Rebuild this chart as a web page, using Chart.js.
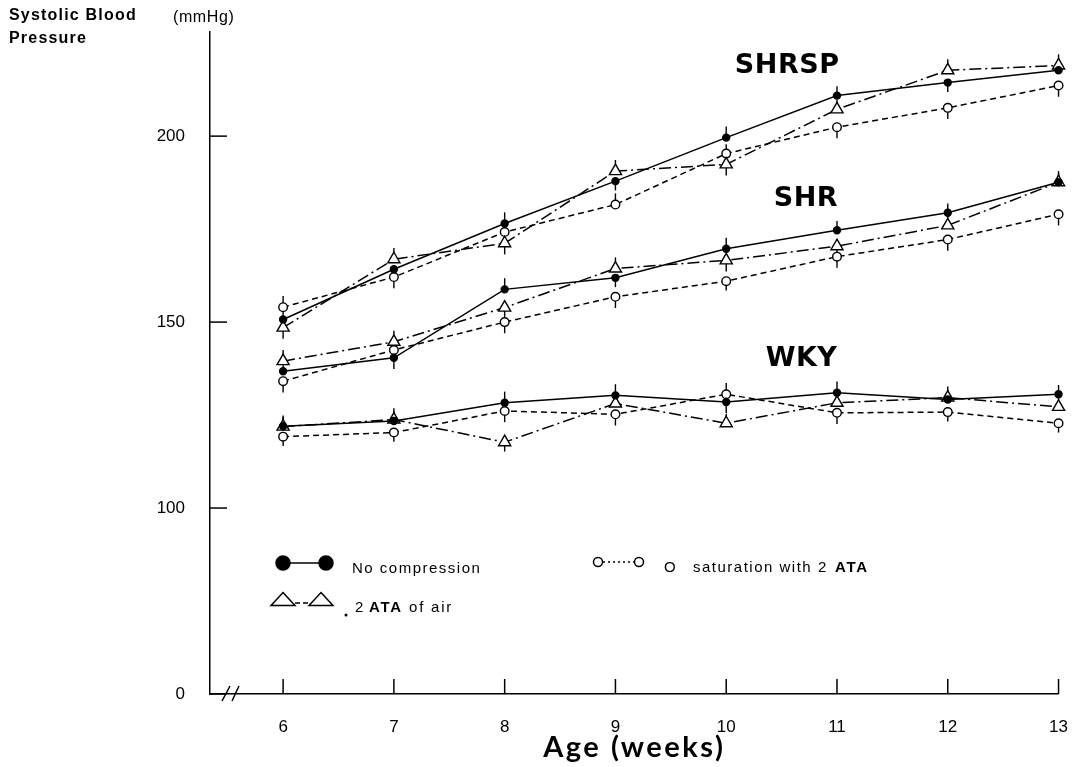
<!DOCTYPE html>
<html>
<head>
<meta charset="utf-8">
<title>Systolic Blood Pressure</title>
<script src="https://cdn.jsdelivr.net/npm/chart.js@4.4.1/dist/chart.umd.min.js"></script>
<style>
  html, body { margin: 0; padding: 0; background: #fff; }
  #wrap { width: 1083px; height: 767px; }
</style>
</head>
<body>
<div id="wrap"><canvas id="myChart" width="1083" height="767"></canvas></div>
<script>
(function(){
    'use strict';

    // age in weeks
    const weeks = [6, 7, 8, 9, 10, 11, 12, 13];

    // mmHg
    const shrspNone = [150.7, 164.2, 176.5, 187.9, 199.6, 210.9, 214.4, 217.7];
    const shrspAir  = [148.5, 166.9, 171.2, 190.6, 192.4, 207.2, 217.7, 219.0];
    const shrspSat  = [154.0, 162.1, 174.2, 181.6, 195.3, 202.4, 207.6, 213.6];

    const shrNone = [136.8, 140.4, 158.8, 161.9, 169.7, 174.7, 179.4, 187.6];
    const shrAir  = [139.5, 144.7, 153.9, 164.4, 166.6, 170.4, 176.0, 187.6];
    const shrSat  = [134.1, 142.5, 150.0, 156.8, 161.0, 167.6, 172.2, 179.0];

    const wkyNone = [122.0, 123.4, 128.3, 130.3, 128.5, 131.0, 129.2, 130.6];
    const wkyAir  = [121.9, 123.8, 117.7, 128.1, 122.8, 128.3, 129.7, 127.2];
    const wkySat  = [119.2, 120.3, 126.1, 125.2, 130.6, 125.6, 125.8, 122.8];

    // one-sided SE bars (+ up, - down), mmHg
    const shrspNoneErr = [2.5, -2.5, 3, -2.5, 3, 2.5, -2.5, 3];
    const shrspAirErr  = [-3, 3, -3, 3, -3, 2.5, 3, 3];
    const shrspSatErr  = [3, -3, 2.5, 3, 2.5, -3, -3, -3];
    const shrNoneErr = [2.5, -3, 3, -2.5, 3, 2.5, 2.5, 2.5];
    const shrAirErr  = [3, 3, -2.5, 3, -3, -2.5, 3, 3];
    const shrSatErr  = [-3, -2.5, -3, -3, -2.5, -3, -3, -3];
    const wkyNoneErr = [2.5, 2.5, 3, 3, -3, 3, 2.5, 2.5];
    const wkyAirErr  = [3, 3, -2.5, 3, 2.5, 2.5, 3, 2.5];
    const wkySatErr  = [-2.5, -2.5, -3, -3, 3, -3, -2.5, -2.5];

    const yTickValues = [50, 100, 150, 200];   // axis is broken below 100
    const yTickLabels = ['0', '100', '150', '200'];

    const groupLabels = [
      {text: 'SHRSP', x: 10.55, y: 217.1},
      {text: 'SHR', x: 10.72, y: 181.1},
      {text: 'WKY', x: 10.68, y: 138.1}
    ];

    const conditions = ['No compression', '2 ATA of air', 'O saturation with 2 ATA'];

    const groups = [
      {name: 'SHRSP', values: [shrspNone, shrspAir, shrspSat], errs: [shrspNoneErr, shrspAirErr, shrspSatErr]},
      {name: 'SHR', values: [shrNone, shrAir, shrSat], errs: [shrNoneErr, shrAirErr, shrSatErr]},
      {name: 'WKY', values: [wkyNone, wkyAir, wkySat], errs: [wkyNoneErr, wkyAirErr, wkySatErr]}
    ];

    const styles = [
      {borderDash: [], pointStyle: 'circle', pointRadius: 3.5, pointBackgroundColor: '#000'},
      {borderDash: [12, 4, 2, 4], pointStyle: 'triangle', pointRadius: 7, pointBackgroundColor: '#fff'},
      {borderDash: [6, 4], pointStyle: 'circle', pointRadius: 4.3, pointBackgroundColor: '#fff'}
    ];

    const tickFont = {family: '"Liberation Sans", Arial, sans-serif', size: 17};

    let datasets = [];
    let errorSets = [];
    groups.forEach(g => {
      g.values.forEach((vals, c) => {
        datasets.push(Object.assign({
          label: g.name + ' - ' + conditions[c],
          data: weeks.map((w, i) => ({x: w, y: vals[i]})),
          borderColor: '#000',
          borderWidth: 1.5,
          pointBorderColor: '#000',
          pointBorderWidth: 1.4,
          pointHoverRadius: 0,
          tension: 0,
          clip: false
        }, styles[c]));
        errorSets.push(g.errs[c]);
      });
    });

    function drawText(ctx, text, x, y, font, spacing, align){
      ctx.font = font;
      ctx.letterSpacing = (spacing || 0) + 'px';
      ctx.textAlign = align || 'left';
      ctx.textBaseline = 'alphabetic';
      ctx.fillStyle = '#000';
      ctx.fillText(text, x, y);
      ctx.letterSpacing = '0px';
    }

    function triangle(ctx, cx, cy, w, h){
      ctx.beginPath();
      ctx.moveTo(cx, cy - h / 2);
      ctx.lineTo(cx + w / 2, cy + h / 2);
      ctx.lineTo(cx - w / 2, cy + h / 2);
      ctx.closePath();
      ctx.fillStyle = '#fff';
      ctx.fill();
      ctx.stroke();
    }

    function circle(ctx, cx, cy, r, fill){
      ctx.beginPath();
      ctx.arc(cx, cy, r, 0, Math.PI * 2);
      ctx.fillStyle = fill;
      ctx.fill();
      ctx.stroke();
    }

    const extras = {
      id: 'extras',
      beforeDatasetsDraw(chart){
        const ctx = chart.ctx;
        const xs = chart.scales.x, ys = chart.scales.y;
        ctx.save();
        ctx.strokeStyle = '#000';
        ctx.lineWidth = 1.4;
        chart.data.datasets.forEach((ds, d) => {
          ds.data.forEach((p, i) => {
            const e = errorSets[d][i];
            const px = xs.getPixelForValue(p.x);
            ctx.beginPath();
            ctx.moveTo(px, ys.getPixelForValue(p.y));
            ctx.lineTo(px, ys.getPixelForValue(p.y + e));
            ctx.stroke();
          });
        });
        ctx.restore();
      },
      afterDraw(chart){
        const ctx = chart.ctx;
        const xs = chart.scales.x, ys = chart.scales.y;
        const area = chart.chartArea;
        ctx.save();
        ctx.strokeStyle = '#000';
        ctx.lineWidth = 1.5;

        // inward tick marks
        weeks.forEach(w => {
          const px = xs.getPixelForValue(w);
          ctx.beginPath();
          ctx.moveTo(px, area.bottom);
          ctx.lineTo(px, area.bottom - 15);
          ctx.stroke();
        });
        yTickValues.forEach(v => {
          const py = ys.getPixelForValue(v);
          ctx.beginPath();
          ctx.moveTo(area.left, py);
          ctx.lineTo(area.left + 17, py);
          ctx.stroke();
        });

        // axis break
        ctx.beginPath();
        ctx.moveTo(area.left + 12, area.bottom + 7);
        ctx.lineTo(area.left + 20, area.bottom - 8);
        ctx.moveTo(area.left + 22, area.bottom + 7);
        ctx.lineTo(area.left + 29, area.bottom - 8);
        ctx.stroke();

        // group names
        groupLabels.forEach(l => {
          drawText(ctx, l.text, xs.getPixelForValue(l.x), ys.getPixelForValue(l.y),
            'bold 27px "DejaVu Sans", sans-serif', 0.5, 'center');
        });

        // axis titles
        drawText(ctx, 'Systolic Blood', 9, 20, 'bold 16px "Liberation Sans", Arial, sans-serif', 1.2);
        drawText(ctx, 'Pressure', 9, 43, 'bold 16px "Liberation Sans", Arial, sans-serif', 1.2);
        drawText(ctx, '(mmHg)', 173, 22, '16px "Liberation Sans", Arial, sans-serif', 0.6);
        drawText(ctx, 'Age (weeks)', (area.left + area.right) / 2, 757, 'bold 29px Lato, sans-serif', 2.5, 'center');

        // legend
        ctx.lineWidth = 1.5;
        ctx.setLineDash([]);
        ctx.beginPath();
        ctx.moveTo(283, 563); ctx.lineTo(326, 563);
        ctx.stroke();
        circle(ctx, 283, 563, 7, '#000');
        circle(ctx, 326, 563, 7, '#000');
        drawText(ctx, conditions[0], 352, 573, '15px "Liberation Sans", Arial, sans-serif', 1.5);

        ctx.setLineDash([5, 3]);
        ctx.beginPath();
        ctx.moveTo(295, 603); ctx.lineTo(310, 603);
        ctx.stroke();
        ctx.setLineDash([]);
        triangle(ctx, 283, 599, 24, 13);
        triangle(ctx, 321, 599, 24, 13);
        ctx.beginPath();
        ctx.arc(346, 615, 1.5, 0, Math.PI * 2);
        ctx.fillStyle = '#000';
        ctx.fill();
        drawText(ctx, '2', 355, 612, '15px "Liberation Sans", Arial, sans-serif', 0);
        drawText(ctx, 'ATA', 369, 612, 'bold 15px "Liberation Sans", Arial, sans-serif', 1.8);
        drawText(ctx, 'of air', 409, 612, '15px "Liberation Sans", Arial, sans-serif', 1.8);

        ctx.setLineDash([2, 3]);
        ctx.beginPath();
        ctx.moveTo(603, 562); ctx.lineTo(634, 562);
        ctx.stroke();
        ctx.setLineDash([]);
        circle(ctx, 598, 562, 4.5, '#fff');
        circle(ctx, 639, 562, 4.5, '#fff');
        drawText(ctx, 'O', 664, 572, '15px "Liberation Sans", Arial, sans-serif', 0);
        drawText(ctx, 'saturation with 2', 693, 572, '15px "Liberation Sans", Arial, sans-serif', 1.5);
        drawText(ctx, 'ATA', 835, 572, 'bold 15px "Liberation Sans", Arial, sans-serif', 1.8);

        ctx.restore();
      }
    };

    const ctx = document.getElementById('myChart').getContext('2d');
    const myChart = new Chart(ctx, {
      type: 'line',
      data: {datasets: datasets},
      options: {
        responsive: false,
        animation: false,
        devicePixelRatio: 1,
        layout: {padding: {top: 32, right: 23, left: 0, bottom: 0}},
        plugins: {
          legend: {display: false},
          tooltip: {enabled: false},
          title: {display: false}
        },
        scales: {
          x: {
            type: 'linear',
            min: 5.34,
            max: 13,
            afterBuildTicks: scale => { scale.ticks = weeks.map(w => ({value: w})); },
            afterFit: scale => { scale.height = 73; },
            grid: {display: false},
            border: {display: true, color: '#000', width: 1.5},
            ticks: {
              color: '#000',
              padding: 15,
              maxRotation: 0,
              font: tickFont,
              callback: v => String(v)
            }
          },
          y: {
            type: 'linear',
            min: 50,
            max: 228,
            afterBuildTicks: scale => { scale.ticks = yTickValues.map(v => ({value: v})); },
            afterFit: scale => { scale.width = 210; },
            grid: {display: false},
            border: {display: true, color: '#000', width: 1.5},
            ticks: {
              color: '#000',
              padding: 17,
              font: tickFont,
              callback: v => yTickLabels[yTickValues.indexOf(v)]
            }
          }
        }
      },
      plugins: [extras]
    });
})();
</script>
</body>
</html>
